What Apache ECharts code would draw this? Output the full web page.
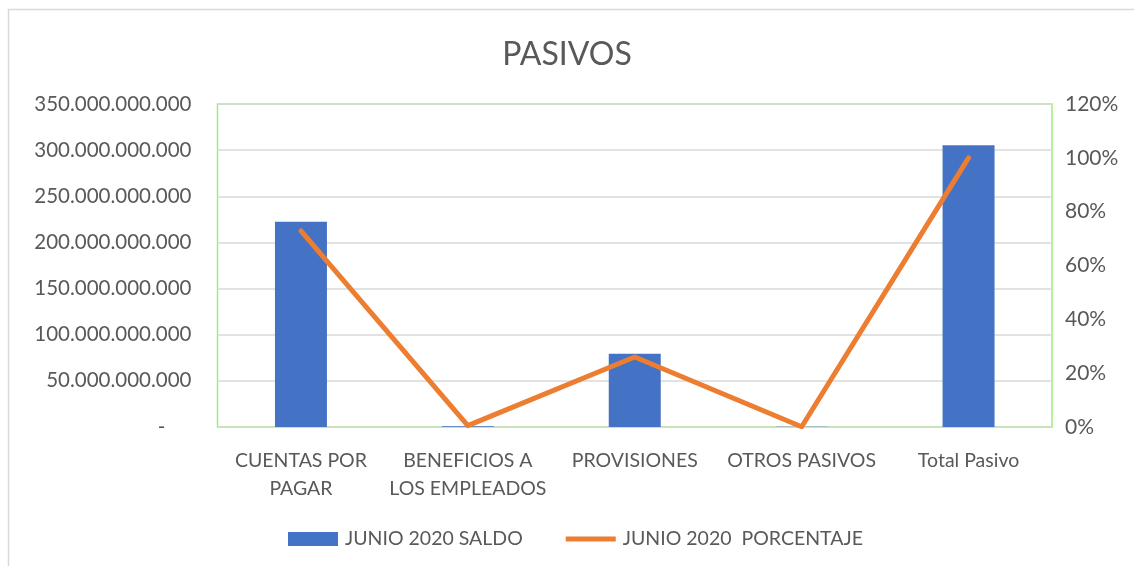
<!DOCTYPE html>
<html>
<head>
<meta charset="utf-8">
<script src="https://cdn.jsdelivr.net/npm/echarts@6/dist/echarts.min.js"></script>
<style>
html,body{margin:0;padding:0;background:#fff;}
#c{width:1134px;height:566px;}
</style>
</head>
<body>
<div id="c"></div>
<script>
const categories = ['CUENTAS POR\nPAGAR', 'BENEFICIOS A\nLOS EMPLEADOS', 'PROVISIONES', 'OTROS PASIVOS', 'Total Pasivo'];
const saldo = [222500000000, 800000000, 79500000000, 200000000, 305300000000];
const porcentaje = [72.9, 0.5, 26.0, 0.1, 100];
const leftTicks = { min: 0, max: 350000000000, interval: 50000000000 };
const rightTicks = { min: 0, max: 120, interval: 20 };
const seriesNames = ['JUNIO 2020 SALDO', 'JUNIO 2020  PORCENTAJE'];

const FONT = 'Lato, "Open Sans", sans-serif';
const TXT = '#595959';

function fmtThousands(v) {
  if (v === 0) return '-     ';
  return String(Math.round(v)).replace(/\B(?=(\d{3})+(?!\d))/g, '.');
}

const chart = echarts.init(document.getElementById('c'));
chart.setOption({
  animation: false,
  backgroundColor: '#fff',
  textStyle: { fontFamily: FONT },
  title: {
    text: 'PASIVOS',
    left: 'center',
    top: 34,
    textStyle: { fontFamily: FONT, fontSize: 32, fontWeight: 'normal', color: TXT }
  },
  graphic: [{
    type: 'rect',
    shape: { x: 8.5, y: 9.5, width: 1200, height: 600 },
    style: { fill: 'none', stroke: '#d9d9d9', lineWidth: 1.5 },
    silent: true, z: -1
  }],
  grid: {
    left: 217.5, right: 82, top: 104, bottom: 139,
    show: true, borderColor: '#9cf078', borderWidth: 1.5, backgroundColor: 'transparent'
  },
  legend: {
    bottom: 12,
    left: 283,
    itemGap: 43,
    itemWidth: 50,
    itemHeight: 14,
    textStyle: { fontFamily: FONT, fontSize: 19.5, color: TXT, padding: [0, 0, 0, 2] },
    data: [
      { name: seriesNames[0], icon: 'rect' },
      { name: seriesNames[1], icon: 'path://M0,0 L50,0 L50,5 L0,5 Z' }
    ]
  },
  xAxis: {
    type: 'category',
    data: categories,
    axisLine: { show: true, lineStyle: { color: '#c9e3b8', width: 1.5 } },
    axisTick: { show: false },
    axisLabel: { fontFamily: FONT, fontSize: 19.5, color: TXT, lineHeight: 28, margin: 20, interval: 0 }
  },
  yAxis: [{
    type: 'value',
    min: leftTicks.min, max: leftTicks.max, interval: leftTicks.interval,
    axisLine: { show: false }, axisTick: { show: false },
    splitLine: { lineStyle: { color: '#d9d9d9', width: 1.5 } },
    axisLabel: { fontFamily: FONT, fontSize: 20.5, color: TXT, margin: 26, formatter: fmtThousands }
  }, {
    type: 'value',
    min: rightTicks.min, max: rightTicks.max, interval: rightTicks.interval,
    axisLine: { show: false }, axisTick: { show: false },
    splitLine: { show: false },
    axisLabel: { fontFamily: FONT, fontSize: 21, color: TXT, margin: 13, formatter: v => v + '%' }
  }],
  series: [{
    name: seriesNames[0],
    type: 'bar',
    data: saldo,
    barWidth: 52,
    itemStyle: { color: '#4472C4' },
    yAxisIndex: 0
  }, {
    name: seriesNames[1],
    type: 'line',
    data: porcentaje,
    yAxisIndex: 1,
    symbol: 'none',
    lineStyle: { color: '#ED7D31', width: 5, cap: 'round', join: 'round' },
    itemStyle: { color: '#ED7D31' },
    z: 3
  }]
});
</script>
</body>
</html>
